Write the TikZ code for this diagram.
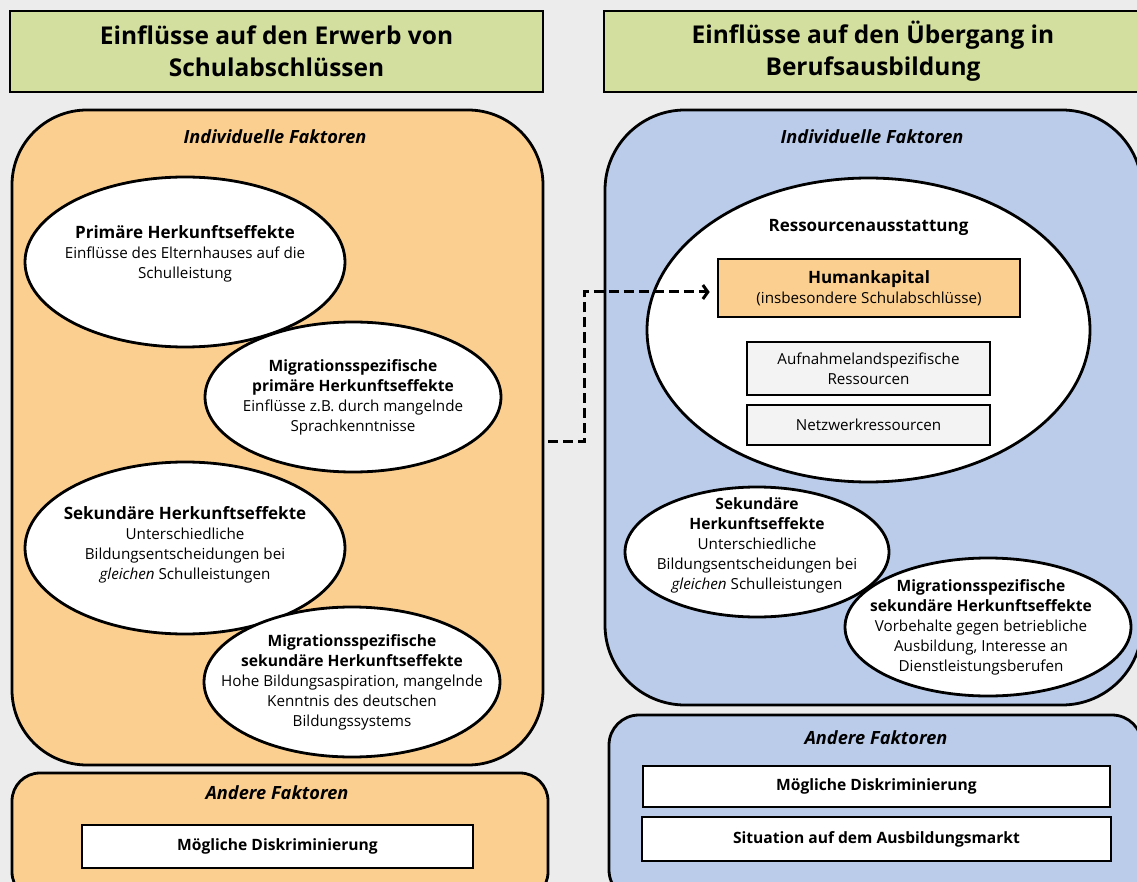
\documentclass[tikz,border=0pt]{standalone}
\usepackage{fontspec}
\setmainfont{Open Sans}
\usetikzlibrary{shapes.geometric}
\usetikzlibrary{arrows.meta}
\usetikzlibrary{positioning}
\definecolor{pagegray}{RGB}{236, 236, 236}
\definecolor{titlegreen}{RGB}{211, 223, 158}
\definecolor{schulorange}{RGB}{251, 207, 144}
\definecolor{berufblue}{RGB}{186, 204, 234}
\definecolor{boxgray}{RGB}{243, 243, 243}
\newcommand{\grosskopfschrift}{\fontsize{17}{20}\selectfont\bfseries}
\newcommand{\kleinkopfschrift}{\fontsize{15.6}{20}\selectfont\bfseries}

\begin{document}
\begin{tikzpicture}[x=1pt, y=-1pt,
    titel/.style={draw, line width=2pt, fill=titlegreen, inner sep=0pt, align=center,
                  font=\fontsize{24.5}{32}\selectfont\bfseries},
    feld/.style={draw, line width=2.8pt, inner sep=0pt},
    kopf/.style={inner sep=0pt, font=\fontsize{18.2}{20}\selectfont\bfseries\itshape},
    effekt/.style={ellipse, draw, line width=2.8pt, fill=white, inner sep=0pt},
    effekttext/.style={anchor=center, align=center, inner sep=0pt, font=\fontsize{15.2}{20}\selectfont},
    kasten/.style={draw, line width=2.6pt, inner sep=0pt, align=center, font=\fontsize{15.2}{20}\selectfont},
    pfeil/.style={line width=3pt, dash pattern=on 10pt off 5pt, -{Straight Barb[length=5pt, width=14pt]}}]
            % Page
            \useasboundingbox (0,0) rectangle (1137,882);
            \fill[pagegray] (0,0) rectangle (1137,882);
            \clip (0,0) rectangle (1137,882);
            % Titles
            \node[titel, minimum width=533pt, minimum height=81pt] (titellinks)  at (276.5,51.5) {Einflüsse auf den Erwerb von\\Schulabschlüssen};
            \node[titel, minimum width=538pt, minimum height=81pt] (titelrechts) at (873,51.5)   {Einflüsse auf den Übergang in\\Berufsausbildung};
            % Left column
            \node[feld, fill=schulorange, rounded corners=75pt, minimum width=531pt, minimum height=655pt] (lindiv)   at (277.5,437.5) {};
            \node[feld, fill=schulorange, rounded corners=28pt, minimum width=536pt, minimum height=127pt] (landere)  at (280,836.5)   {};
            \node[kopf] (lindivkopf)  at (275,137) {Individuelle Faktoren};
            \node[kopf] (landerekopf) at (277,793) {Andere Faktoren};
            \node[effekt, minimum width=320pt, minimum height=170pt,
                  label={[effekttext, yshift=8pt]center:{{\grosskopfschrift Primäre Herkunftseffekte}\\Einflüsse des Elternhauses auf die\\Schulleistung}}] (primaer) at (185,262) {};
            \node[effekt, minimum width=296pt, minimum height=150pt,
                  label={[effekttext]center:{{\kleinkopfschrift Migrationsspezifische}\\{\kleinkopfschrift primäre Herkunftseffekte}\\Einflüsse z.B. durch mangelnde\\Sprachkenntnisse}}] (migprimaer) at (353,397) {};
            \node[effekt, minimum width=320pt, minimum height=172pt,
                  label={[effekttext, yshift=3pt]center:{{\grosskopfschrift Sekundäre Herkunftseffekte}\\Unterschiedliche\\Bildungsentscheidungen bei\\\textit{gleichen} Schulleistungen}}] (sekundaer) at (185,548) {};
            \node[effekt, minimum width=296pt, minimum height=150pt,
                  label={[effekttext]center:{{\kleinkopfschrift Migrationsspezifische}\\{\kleinkopfschrift sekundäre Herkunftseffekte}\\Hohe Bildungsaspiration, mangelnde\\Kenntnis des deutschen\\Bildungssystems}}] (migsekundaer) at (352,682) {};
            \node[kasten, fill=white, minimum width=391pt, minimum height=43pt] (ldiskr) at (277.5,846.5) {\kleinkopfschrift Mögliche Diskriminierung};
            % Right column
            \node[feld, fill=berufblue, rounded corners=80pt, minimum width=537pt, minimum height=595pt] (rindiv)   at (873.5,407.5) {};
            \node[feld, fill=berufblue, rounded corners=30pt, minimum width=533pt, minimum height=185pt] (randere)  at (875.5,807.5) {};
            \node[kopf] (rindivkopf)  at (872,137) {Individuelle Faktoren};
            \node[kopf] (randerekopf) at (876,738) {Andere Faktoren};
            \node[effekt, minimum width=443pt, minimum height=304pt,
                  label={[effekttext, yshift=-51pt, font=\grosskopfschrift]north:Ressourcenausstattung}] (ressourcen) at (868.5,330) {};
            \node[kasten, fill=schulorange, minimum width=302pt, minimum height=58pt] (human)    at (869,288)     {{\grosskopfschrift Humankapital}\\(insbesondere Schulabschlüsse)};
            \node[kasten, fill=boxgray,     minimum width=243pt, minimum height=53pt] (aufnahme) at (868.5,368.5) {Aufnahmelandspezifische\\Ressourcen};
            \node[kasten, fill=boxgray,     minimum width=243pt, minimum height=40pt] (netzwerk) at (868.5,425)   {Netzwerkressourcen};
            \node[effekt, minimum width=264pt, minimum height=130pt,
                  label={[effekttext, yshift=7pt]center:{{\kleinkopfschrift Sekundäre}\\{\kleinkopfschrift Herkunftseffekte}\\Unterschiedliche\\Bildungsentscheidungen bei\\\textit{gleichen} Schulleistungen}}] (rsekundaer) at (757,552) {};
            \node[effekt, minimum width=286pt, minimum height=138pt,
                  label={[effekttext, xshift=-7pt]center:{{\kleinkopfschrift Migrationsspezifische}\\{\kleinkopfschrift sekundäre Herkunftseffekte}\\Vorbehalte gegen betriebliche\\Ausbildung, Interesse an\\Dienstleistungsberufen}}] (rmigsekundaer) at (988,627) {};
            \node[kasten, fill=white, minimum width=467pt, minimum height=41pt] (rdiskr) at (876.5,786.5) {\kleinkopfschrift Mögliche Diskriminierung};
            \node[kasten, fill=white, minimum width=469pt, minimum height=44pt] (markt)  at (876.5,839)   {\kleinkopfschrift Situation auf dem Ausbildungsmarkt};
            % Link between the columns
            \draw[pfeil] ([xshift=4pt, yshift=-4pt]lindiv.east) -- ++(36,0) |- ([xshift=-7pt, yshift=-4pt]human.west);
\end{tikzpicture}
\end{document}
